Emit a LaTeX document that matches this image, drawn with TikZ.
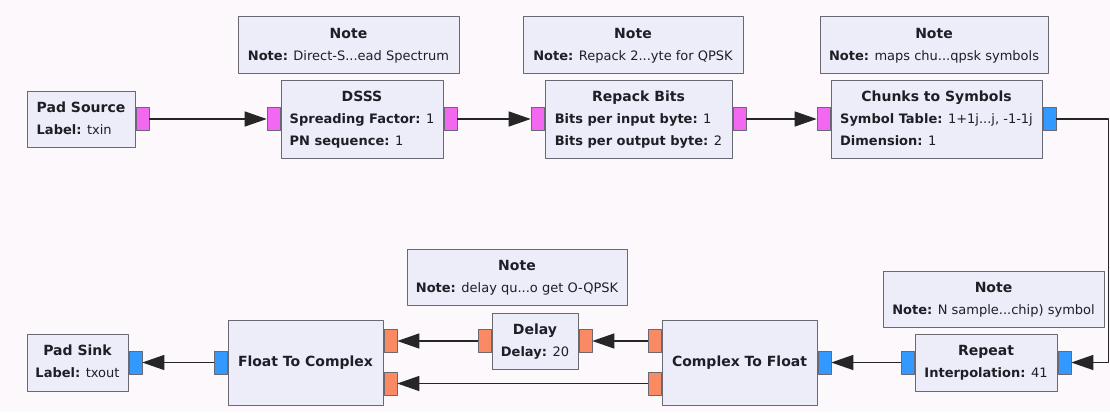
\documentclass[tikz,border=0pt]{standalone}
\usepackage{fontspec}
\setmainfont{DejaVu Sans}
\usetikzlibrary{arrows.meta}
\definecolor{bg}{RGB}{252,248,252}
\definecolor{blockfill}{RGB}{237,237,250}
\definecolor{blockline}{RGB}{105,105,115}
\definecolor{textcol}{RGB}{30,30,36}
\definecolor{bytecol}{RGB}{242,104,240}
\definecolor{cplxcol}{RGB}{51,153,255}
\definecolor{floatcol}{RGB}{250,138,100}
% block title centred and a bit larger, parameters left
\newcommand{\blocktitle}[1]{{\fontsize{14}{22}\selectfont\bfseries #1}}
\newcommand{\blocktext}[2]{\begin{tabular}{@{}l@{}}\multicolumn{1}{@{}c@{}}{\blocktitle{#1}}\\#2\end{tabular}}
\newcommand{\param}[2]{\textbf{#1:} #2}
\tikzset{
  block/.style={draw=blockline,fill=blockfill,line width=1pt,inner sep=0pt,
    text=textcol,font=\fontsize{13}{22}\selectfont},
  note/.style={block,minimum height=56pt},
  port/.style={draw=blockline,line width=0.8pt,minimum width=13pt,minimum height=23pt,inner sep=0pt},
  byteport/.style={port,fill=bytecol},
  cplxport/.style={port,fill=cplxcol},
  floatport/.style={port,fill=floatcol},
  flow/.style={->,line width=1.2pt,draw=black!85}
}
\begin{document}
\begin{tikzpicture}[x=1pt,y=-1pt,line join=round,>={Triangle[length=22pt,width=15pt]}]
\fill[bg] (0,0) rectangle (1110,412);

% notes
\node[note,minimum width=221pt] (notedsss) at (348.5,45) {\blocktext{Note}{\param{Note}{Direct-S...ead Spectrum}}};
\node[note,minimum width=220pt] (noterepack) at (633,45) {\blocktext{Note}{\param{Note}{Repack 2...yte for QPSK}}};
\node[note,minimum width=228pt] (notechunks) at (934,45) {\blocktext{Note}{\param{Note}{maps chu...qpsk symbols}}};
\node[note,minimum width=220pt] (notedelay) at (517,277.5) {\blocktext{Note}{\param{Note}{delay qu...o get O-QPSK}}};
\node[note,minimum width=221pt] (noterepeat) at (993.5,299) {\blocktext{Note}{\param{Note}{N sample...chip) symbol}}};

% top row
\node[block,minimum width=108pt,minimum height=56pt] (padsrc) at (81,119) {\blocktext{Pad Source}{\param{Label}{txin}}};
\node[block,minimum width=162pt,minimum height=78pt] (dsss) at (362,119) {\blocktext{DSSS}{\param{Spreading Factor}{1}\\\param{PN sequence}{1}}};
\node[block,minimum width=187pt,minimum height=78pt] (repack) at (638.5,119) {\blocktext{Repack Bits}{\param{Bits per input byte}{1}\\\param{Bits per output byte}{2}}};
\node[block,minimum width=211pt,minimum height=78pt] (chunks) at (936.5,119) {\blocktext{Chunks to Symbols}{\param{Symbol Table}{1+1j...j, -1-1j}\\\param{Dimension}{1}}};

\node[byteport,anchor=west] (padsrcout) at (padsrc.east) {};
\node[byteport,anchor=east] (dsssin) at (dsss.west) {};
\node[byteport,anchor=west] (dsssout) at (dsss.east) {};
\node[byteport,anchor=east] (repackin) at (repack.west) {};
\node[byteport,anchor=west] (repackout) at (repack.east) {};
\node[byteport,anchor=east] (chunksin) at (chunks.west) {};
\node[cplxport,anchor=west] (chunksout) at (chunks.east) {};

% bottom row
\node[block,minimum width=101pt,minimum height=57pt] (padsink) at (77.5,362.5) {\blocktext{Pad Sink}{\param{Label}{txout}}};
\node[block,minimum width=155pt,minimum height=85pt] (ftc) at (305.5,362.5) {\blocktitle{Float To Complex}};
\node[block,minimum width=86pt,minimum height=56pt] (delay) at (535,341) {\blocktext{Delay}{\param{Delay}{20}}};
\node[block,minimum width=155pt,minimum height=85pt] (ctf) at (739.5,362.5) {\blocktitle{Complex To Float}};
\node[block,minimum width=142pt,minimum height=57pt] (repeat) at (986,362.5) {\blocktext{Repeat}{\param{Interpolation}{41}}};

\node[cplxport,anchor=west] (padsinkin) at (padsink.east) {};
\node[cplxport,anchor=east] (ftcout) at (ftc.west) {};
\node[floatport,anchor=west] (ftcin0) at ([yshift=21.5pt]ftc.east) {};
\node[floatport,anchor=west] (ftcin1) at ([yshift=-21pt]ftc.east) {};
\node[floatport,anchor=east] (delayout) at (delay.west) {};
\node[floatport,anchor=west] (delayin) at (delay.east) {};
\node[floatport,anchor=east] (ctfout0) at ([yshift=21.5pt]ctf.west) {};
\node[floatport,anchor=east] (ctfout1) at ([yshift=-21pt]ctf.west) {};
\node[cplxport,anchor=west] (ctfin) at (ctf.east) {};
\node[cplxport,anchor=east] (repeatout) at (repeat.west) {};
\node[cplxport,anchor=west] (repeatin) at (repeat.east) {};

\coordinate (bend) at (1108.5,119);

% connections
\draw[flow] (padsrcout) -- (dsssin);
\draw[flow] (dsssout) -- (repackin);
\draw[flow] (repackout) -- (chunksin);
\draw[flow] (chunksout) -- (bend) |- (repeatin);
\draw[flow] (repeatout) -- (ctfin);
\draw[flow] (ctfout0) -- (delayin);
\draw[flow] (ctfout1) -- (ftcin1);
\draw[flow] (delayout) -- (ftcin0);
\draw[flow] (ftcout) -- (padsinkin);
\end{tikzpicture}
\end{document}
